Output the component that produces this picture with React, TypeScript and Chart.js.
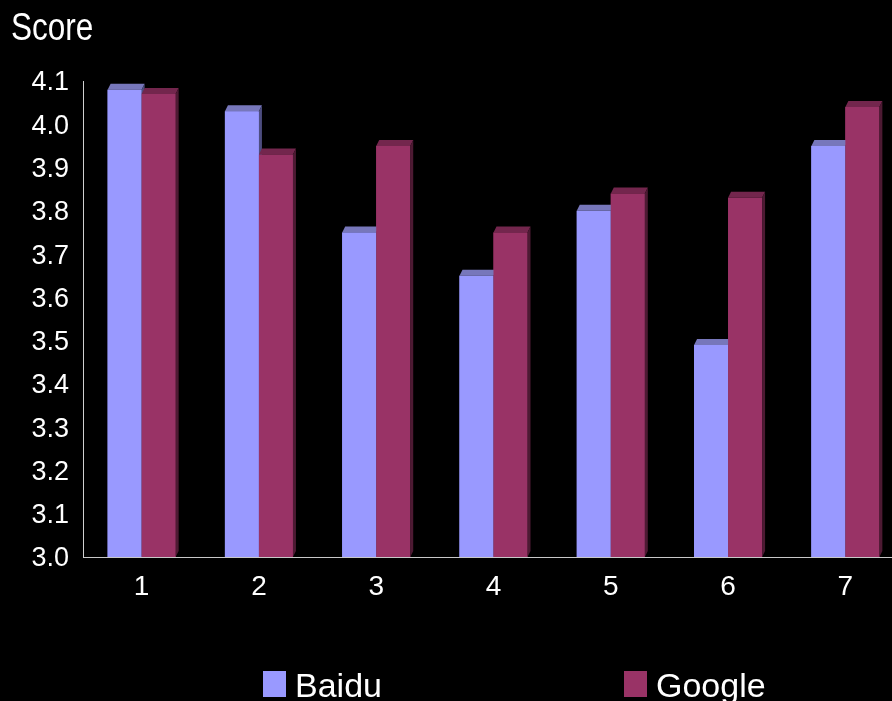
import React, { useEffect, useRef } from "react";
import { Chart, registerables } from "chart.js";

Chart.register(...registerables);

// Chart data
const CATEGORIES = ["1", "2", "3", "4", "5", "6", "7"];
const BAIDU_SCORES = [4.08, 4.03, 3.75, 3.65, 3.8, 3.49, 3.95];
const GOOGLE_SCORES = [4.07, 3.93, 3.95, 3.75, 3.84, 3.83, 4.04];
const SERIES_NAMES = ["Baidu", "Google"];
const Y_MIN = 3.0;
const Y_MAX = 4.1;
const Y_STEP = 0.1;
const AXIS_TITLE = "Score";

// Styling
const FRONT_COLORS = ["#9999FF", "#993366"];
const TOP_COLORS = ["#7777BB", "#73264D"];
const SIDE_COLORS = ["#4D4D80", "#4D1A33"];
const DEPTH_X = 3;
const DEPTH_Y = 6;
const SANS = '"Liberation Sans", Arial, sans-serif';

const CANVAS_W = 912;
const CANVAS_H = 701;

// Draws each bar as a 3D column (front, top and right faces), series by series,
// so that a later series' front face hides the earlier one's side face.
const bar3dPlugin = {
  id: "bar3d",
  afterDatasetsDraw(chart: any) {
    const ctx = chart.ctx;
    const bottom = chart.chartArea.bottom;
    ctx.save();
    chart.data.datasets.forEach((_: any, idx: number) => {
      const meta = chart.getDatasetMeta(idx);
      meta.data.forEach((el: any) => {
        const { x, y, base, width } = el.getProps(["x", "y", "base", "width"], true);
        const b = Math.min(base, bottom);
        const xl = x - width / 2;
        const xr = x + width / 2;
        ctx.fillStyle = FRONT_COLORS[idx];
        ctx.fillRect(xl, y, width, b - y);
        ctx.fillStyle = TOP_COLORS[idx];
        ctx.beginPath();
        ctx.moveTo(xl, y);
        ctx.lineTo(xr, y);
        ctx.lineTo(xr + DEPTH_X, y - DEPTH_Y);
        ctx.lineTo(xl + DEPTH_X, y - DEPTH_Y);
        ctx.closePath();
        ctx.fill();
        ctx.fillStyle = SIDE_COLORS[idx];
        ctx.beginPath();
        ctx.moveTo(xr, y);
        ctx.lineTo(xr + DEPTH_X, y - DEPTH_Y);
        ctx.lineTo(xr + DEPTH_X, b - DEPTH_Y);
        ctx.lineTo(xr, b);
        ctx.closePath();
        ctx.fill();
      });
    });
    ctx.restore();
  },
};

// Axis title at the top left and the legend along the bottom.
const decorPlugin = {
  id: "decor",
  afterDraw(chart: any) {
    const ctx = chart.ctx;
    ctx.save();
    ctx.fillStyle = "#ffffff";
    ctx.textBaseline = "alphabetic";
    ctx.textAlign = "left";

    ctx.save();
    ctx.translate(11, 40);
    ctx.scale(0.83, 1);
    ctx.font = `38px ${SANS}`;
    ctx.fillText(AXIS_TITLE, 0, 0);
    ctx.restore();

    const items = [
      { x: 263, label: SERIES_NAMES[0], color: FRONT_COLORS[0] },
      { x: 624, label: SERIES_NAMES[1], color: FRONT_COLORS[1] },
    ];
    ctx.font = `34px ${SANS}`;
    items.forEach((it) => {
      ctx.fillStyle = it.color;
      ctx.fillRect(it.x, 671, 23, 26);
      ctx.fillStyle = "#ffffff";
      ctx.fillText(it.label, it.x + 32, 697);
    });
    ctx.restore();
  },
};

export default function App() {
  const canvasRef = useRef<HTMLCanvasElement | null>(null);

  useEffect(() => {
    document.body.style.margin = "0";
    document.body.style.background = "#000";
    const canvas = canvasRef.current;
    if (!canvas) return;
    const chart = new Chart(canvas, {
      type: "bar",
      data: {
        labels: CATEGORIES,
        datasets: [
          {
            label: SERIES_NAMES[0],
            data: BAIDU_SCORES,
            backgroundColor: FRONT_COLORS[0],
            borderWidth: 0,
          },
          {
            label: SERIES_NAMES[1],
            data: GOOGLE_SCORES,
            backgroundColor: FRONT_COLORS[1],
            borderWidth: 0,
          },
        ],
      },
      options: {
        responsive: false,
        maintainAspectRatio: false,
        animation: false,
        devicePixelRatio: 1,
        layout: { padding: { top: 81, left: 0, right: 8, bottom: 74 } },
        datasets: {
          bar: { categoryPercentage: 0.58, barPercentage: 1.0 },
        },
        plugins: {
          legend: { display: false },
          tooltip: { enabled: false },
          title: { display: false },
        },
        scales: {
          x: {
            grid: { display: false },
            border: { display: true, color: "#c8c8c8", width: 1 },
            ticks: {
              color: "#ffffff",
              font: { family: SANS, size: 28 },
              padding: 5,
              maxRotation: 0,
            },
            afterFit: (s: any) => {
              s.height = 70;
            },
          },
          y: {
            min: Y_MIN,
            max: Y_MAX,
            grid: { display: false },
            border: { display: true, color: "#d0d0d0", width: 1 },
            ticks: {
              stepSize: Y_STEP,
              color: "#ffffff",
              font: { family: SANS, size: 27 },
              padding: 6,
              labelOffset: 2,
              callback: (v: any) => Number(v).toFixed(1),
            },
            afterFit: (s: any) => {
              s.width = 83;
            },
          },
        },
      },
      plugins: [bar3dPlugin, decorPlugin],
    });
    return () => chart.destroy();
  }, []);

  return (
    <div
      style={{
        position: "fixed",
        left: 0,
        top: 0,
        width: 892,
        height: 701,
        overflow: "hidden",
        background: "#000",
      }}
    >
      <canvas
        ref={canvasRef}
        width={CANVAS_W}
        height={CANVAS_H}
        style={{ width: CANVAS_W, height: CANVAS_H, display: "block" }}
      />
    </div>
  );
}
